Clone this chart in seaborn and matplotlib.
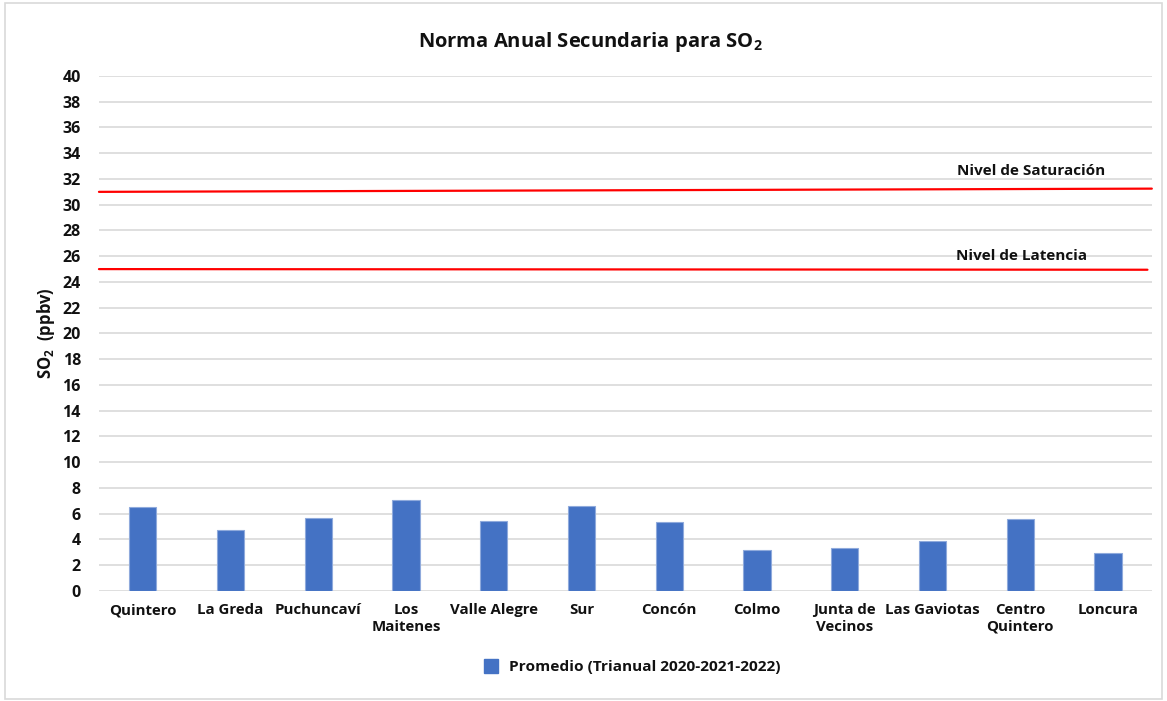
import matplotlib
matplotlib.use("Agg")
import matplotlib.pyplot as plt
import seaborn as sns
import pandas as pd
from matplotlib.lines import Line2D
from matplotlib.patches import Rectangle

# datos
estaciones = ["Quintero", "La Greda", "Puchuncaví", "Los\nMaitenes", "Valle Alegre", "Sur",
              "Concón", "Colmo", "Junta de\nVecinos", "Las Gaviotas", "Centro\nQuintero", "Loncura"]
promedio = [6.5, 4.75, 5.65, 7.1, 5.45, 6.6, 5.35, 3.2, 3.3, 3.85, 5.6, 2.95]
nivel_saturacion = [31.0, 31.25]
nivel_latencia = [25.0, 24.95]
y_ticks = list(range(0, 41, 2))

df = pd.DataFrame({"estacion": estaciones, "so2": promedio})

sns.set_theme(style="white")
plt.rcParams["font.family"] = ["Open Sans", "DejaVu Sans"]
plt.rcParams["font.weight"] = "bold"
plt.rcParams["mathtext.fontset"] = "custom"
plt.rcParams["mathtext.rm"] = "Open Sans:bold"
plt.rcParams["mathtext.bf"] = "Open Sans:bold"
plt.rcParams["mathtext.it"] = "Open Sans:bold"

azul = "#4472C4"
negro = "#111111"
fig = plt.figure(figsize=(11.67, 7.01), dpi=100)
ax = fig.add_axes([0.0848, 0.157, 0.9022, 0.7346])

sns.barplot(data=df, x="estacion", y="so2", color=azul, width=0.31, ax=ax,
            edgecolor="#8faadc", linewidth=0.8, saturation=1, zorder=3)

# lineas de norma
ax.plot([-0.5, 11.5], nivel_saturacion, color="red", lw=1.6, zorder=4, clip_on=False)
ax.plot([-0.5, 11.45], nivel_latencia, color="red", lw=1.6, zorder=4, clip_on=False)
ax.text(10.12, 32.6, "Nivel de Saturación", ha="center", va="center", fontsize=11,
        fontweight="bold", color=negro)
ax.text(10.02, 26.0, "Nivel de Latencia", ha="center", va="center", fontsize=11,
        fontweight="bold", color=negro)

ax.set_ylim(0, 40)
ax.set_xlim(-0.5, 11.5)
ax.set_yticks(y_ticks)
ax.yaxis.grid(True, color="#d9d9d9", lw=1.2, zorder=0)
ax.set_axisbelow(True)
for s in ax.spines.values():
    s.set_visible(False)
ax.tick_params(axis="y", length=0, pad=13, labelsize=11.5, labelcolor=negro)
ax.tick_params(axis="x", length=0, pad=9, labelsize=10.8, labelcolor=negro)
for lab in ax.get_xticklabels() + ax.get_yticklabels():
    lab.set_fontweight("bold")

ax.set_xlabel("")
ax.set_ylabel(r"SO$_2$  (ppbv)", fontsize=12, fontweight="bold", labelpad=4, color=negro)

fig.text(0.506, 0.94, r"Norma Anual Secundaria para SO$_2$", ha="center", va="center",
         fontsize=14.5, fontweight="bold", color=negro)

handle = Line2D([], [], marker="s", color=azul, linestyle="none", markersize=10)
fig.legend([handle], ["Promedio (Trianual 2020-2021-2022)"], loc="center",
           bbox_to_anchor=(0.538, 0.048), frameon=False, handletextpad=0.2,
           prop={"weight": "bold", "size": 11.1}, labelcolor=negro)

fig.patches.append(Rectangle((0.004, 0.003), 0.992, 0.993, transform=fig.transFigure,
                             fill=False, edgecolor="#d9d9d9", lw=1.2))

fig.savefig("out.png", dpi=100)
